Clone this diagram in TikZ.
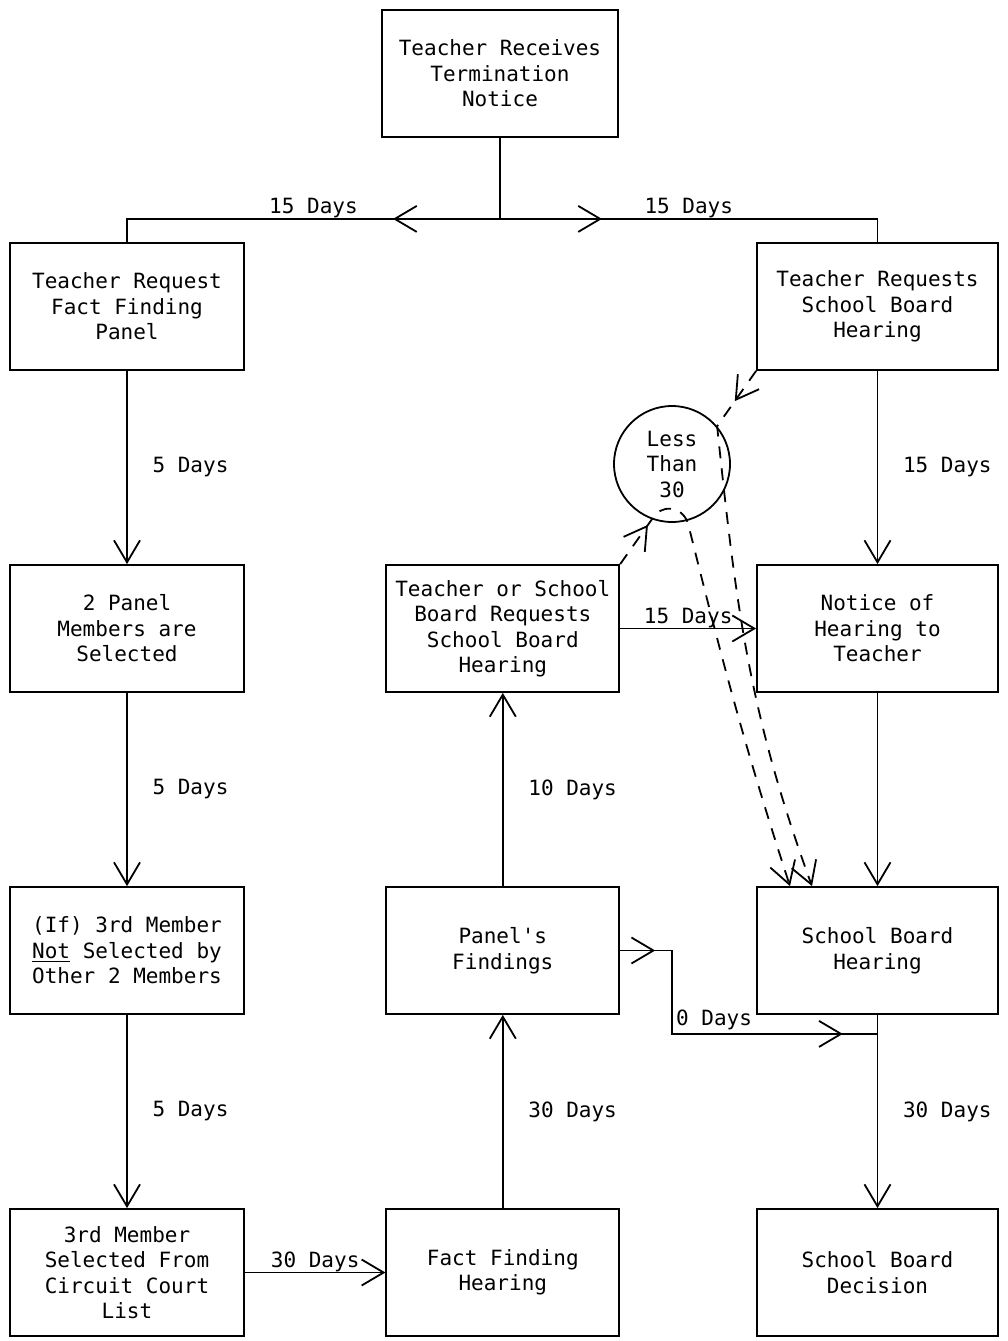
\documentclass[tikz,border=0pt]{standalone}
\usepackage{fontspec}
\newfontfamily\typefont{DejaVu Sans Mono}
\usepackage{tikz}
\usetikzlibrary{positioning,arrows.meta,decorations.markings}

\begin{document}
\begin{tikzpicture}[font=\typefont\fontsize{10.5}{12.75}\selectfont,>={Straight Barb[length=11pt,width=13pt]},line width=0.9pt,node distance=96.6pt]
  \tikzstyle{box}=[draw,align=center,minimum height=63.5pt]
  \tikzstyle{lbox}=[box,minimum width=117pt]
  \tikzstyle{mbox}=[box,minimum width=116.5pt]
  \tikzstyle{rbox}=[box,minimum width=120.5pt]
  \tikzstyle{ring}=[draw,circle,minimum size=58pt,inner sep=0pt,align=center]
  \tikzstyle{dashline}=[dash pattern=on 6pt off 5pt]
  \tikzset{tipat/.style={postaction={decorate},decoration={markings,mark=at position #1 with {\arrow{>}}}}}
  \useasboundingbox (0,0) rectangle (504pt,-670.5pt);
  % notice at the top
  \node[box,minimum width=118pt] (notice) at (250pt,-36.75pt) {Teacher Receives\\Termination\\Notice};
  % fact finding side, going down
  \node[lbox] (tfp) at (63.5pt,-153.25pt) {Teacher Request\\Fact Finding\\Panel};
  \node[lbox,below=of tfp] (pms) {2 Panel\\Members are\\Selected};
  \node[lbox,below=of pms] (thm) {(If) 3rd Member\\\underline{Not} Selected by\\Other 2 Members};
  \node[lbox,below=of thm] (ccl) {3rd Member\\Selected From\\Circuit Court\\List};
  % middle column, going up
  \node[mbox,right=70.25pt of ccl] (ffh) {Fact Finding\\Hearing};
  \node[mbox,above=of ffh] (pf) {Panel's\\Findings};
  \node[mbox,above=of pf] (tos) {Teacher or School\\Board Requests\\School Board\\Hearing};
  % school board side, going down
  \node[rbox] (trsb) at (438.75pt,-153.25pt) {Teacher Requests\\School Board\\Hearing};
  \node[rbox,below=of trsb] (nht) {Notice of\\Hearing to\\Teacher};
  \node[rbox,below=of nht] (sbh) {School Board\\Hearing};
  \node[rbox,below=of sbh] (sbd) {School Board\\Decision};
  \node[ring] (lt) at (336pt,-232pt) {Less\\Than\\30};
  % split under the notice
  \coordinate (split) at ([yshift=-40.5pt]notice.south);
  \draw (notice.south) -- (split);
  \draw[tipat=53.5pt] (split) -- node[above=-3.5pt]{15 Days} (split -| tfp.north) -- (tfp.north);
  \draw[tipat=51pt] (split) -- node[above=-3.5pt]{15 Days} (split -| trsb.north) -- (trsb.north);
  % day arrows
  \draw[->] (tfp) -- node[right=9pt]{5 Days} (pms);
  \draw[->] (pms) -- node[right=9pt]{5 Days} (thm);
  \draw[->] (thm) -- node[right=9pt]{5 Days} (ccl);
  \draw[->] (ccl) -- node[above=-3.5pt]{30 Days} (ffh);
  \draw[->] (ffh) -- node[right=9pt]{30 Days} (pf);
  \draw[->] (pf) -- node[right=9pt]{10 Days} (tos);
  \draw[->] (tos) -- node[above=-3.5pt]{15 Days} (nht);
  \draw[->] (trsb) -- node[right=9pt]{15 Days} (nht);
  \draw[->] (nht) -- (sbh);
  \draw[->] (sbh) -- node[right=9pt]{30 Days} (sbd);
  % findings over to the board
  \coordinate (fk) at ([xshift=26pt]pf.east);
  \coordinate (fz) at ([yshift=-9.5pt]sbh.south);
  \draw[postaction={decorate},decoration={markings,mark=at position 17.5pt with {\arrow{>}},mark=at position 153pt with {\arrow{>}}}] (pf.east) -- (fk) |- node[pos=0.5,anchor=south west,inner sep=1.5pt]{0 Days} (fz);
  % less than 30 days
  \draw[dashline,->,tipat=18.5pt] (trsb.south west) -- (lt.40) to[out=-84,in=110] ([xshift=-32.75pt]sbh.north);
  \draw[dashline,->,tipat=24pt] (tos.north east) -- (lt.250) to[out=60,in=110,looseness=1.3] ++(18pt,-1.75pt) to[out=-76,in=108] ([xshift=-43.75pt]sbh.north);
\end{tikzpicture}
\end{document}
